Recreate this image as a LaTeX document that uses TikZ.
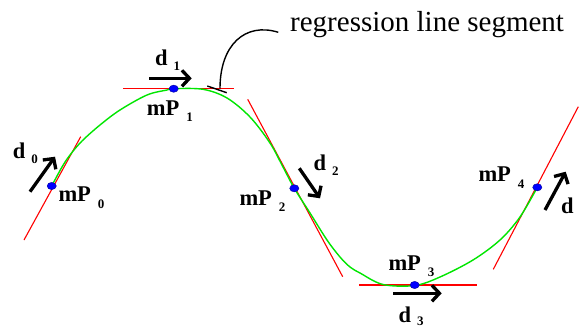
\documentclass[tikz,border=0pt]{standalone}
\usepackage{fontspec}
\setmainfont{Liberation Serif}
\usetikzlibrary{arrows.meta}
\definecolor{tangred}{RGB}{255,0,0}
\definecolor{curvegreen}{RGB}{0,230,0}
\definecolor{dotblue}{RGB}{0,0,255}
\newcommand{\subsz}{\fontsize{13}{13}\selectfont}
\newcommand{\mpl}[1]{mP\hspace{7pt}\raisebox{-6.5pt}{\subsz #1}}
\newcommand{\dl}[2][-5pt]{d\hspace{6pt}\raisebox{#1}{\subsz #2}}
\begin{document}
\begin{tikzpicture}[x=1pt,y=-1pt,
  lab/.style={inner sep=0pt, anchor=base west, font=\fontsize{22.5}{22.5}\selectfont\bfseries},
  tangent/.style={draw=tangred, line width=1.1pt},
  curve/.style={draw=curvegreen, line width=1.4pt},
  dirarrow/.style={draw=black, line width=3.3pt, -{Straight Barb[length=7.5pt,width=16pt]}},
  callout/.style={draw=black, line width=1.4pt},
  dotstyle/.style={fill=dotblue, draw=blue!60!black, line width=0.4pt}
]
\useasboundingbox (0,0) rectangle (579,329);
\fill[white] (0,0) rectangle (579,329);

% sample points
\coordinate (p0) at (51.7,186);
\coordinate (p1) at (173.7,88.7);
\coordinate (p2) at (294.3,188.3);
\coordinate (p3) at (414.7,285);
\coordinate (p4) at (537.3,187.3);

% tangent (regression) segments
\coordinate (r0a) at (24,240);   \coordinate (r0b) at (80.7,136.7);
\coordinate (r1a) at (123,88.7); \coordinate (r1b) at (234,88.7);
\coordinate (r2a) at (247.7,99.3); \coordinate (r2b) at (342.7,276.7);
\coordinate (r3a) at (359,285);  \coordinate (r3b) at (476.7,285);
\coordinate (r4a) at (493.3,269.3); \coordinate (r4b) at (578.3,106.7);
\draw[tangent] (r0a) -- (r0b);
\draw[tangent] (r1a) -- (r1b);
\draw[tangent] (r2a) -- (r2b);
\draw[tangent] (r3a) -- (r3b);
\draw[tangent] (r4a) -- (r4b);

% green curve
\draw[curve] plot[smooth, tension=0.55] coordinates {
 (51.7,186) (62,167) (70,155) (82,141) (100,125) (120,110) (147,95) (167,90)
 (173.7,88.7) (203,89.3) (227,98) (250,117) (270,143) (283,167) (294.3,188.3)
 (310,213) (327,240) (340,257) (350,267) (360,273) (383,284.5) (414.7,285.5)
 (440,277) (473,260) (500,240) (520,217) (537.3,187.3)};

% dots
\foreach \p in {p0,p1,p2,p3,p4}
  \filldraw[dotstyle] (\p) ellipse [x radius=4.6pt, y radius=3.6pt];

% direction arrows
\coordinate (a0s) at (30,191.7);   \coordinate (a0e) at (55,156.7);
\coordinate (a1s) at (149,78.3);   \coordinate (a1e) at (191.7,78.3);
\coordinate (a2s) at (299.3,168.3); \coordinate (a2e) at (320,198.3);
\coordinate (a3s) at (393.3,293.3); \coordinate (a3e) at (441.7,293.3);
\coordinate (a4s) at (545,210);    \coordinate (a4e) at (565.7,171.7);
\draw[dirarrow] (a0s) -- (a0e);
\draw[dirarrow] (a1s) -- (a1e);
\draw[dirarrow] (a2s) -- (a2e);
\draw[dirarrow] (a3s) -- (a3e);
\draw[dirarrow] (a4s) -- (a4e);

% labels
\node[lab] (m0) at (58.3,201.7) {\mpl{0}};
\node[lab] (m1) at (146.7,115) {\mpl{1}};
\node[lab] (m2) at (239.3,205) {\mpl{2}};
\node[lab] (m3) at (388.3,270) {\mpl{3}};
\node[lab] (m4) at (478.3,181.7) {\mpl{4}};
\node[lab] (d0) at (12.7,158.3) {\dl{0}};
\node[lab] (d1) at (155,65.7) {\dl{1}};
\node[lab] (d2) at (313.3,170.7) {\dl{2}};
\node[lab] (d3) at (398.3,322.3) {\dl[-3.5pt]{3}};
\node[lab] (d4) at (561,213.3) {d};

% callout
\node[inner sep=0pt, anchor=base west, font=\fontsize{29}{29}\selectfont] (rl) at (290,31.7) {regression line segment};
\coordinate (cs) at (278.3,32.3);
\coordinate (ce) at (220,88.5);
\coordinate (ta) at (207.3,86);
\coordinate (tb) at (226.7,92.7);
\draw[callout] (cs) .. controls (245,22) and (220,45) .. (ce);
\draw[callout] (ta) -- (tb);
\end{tikzpicture}
\end{document}
